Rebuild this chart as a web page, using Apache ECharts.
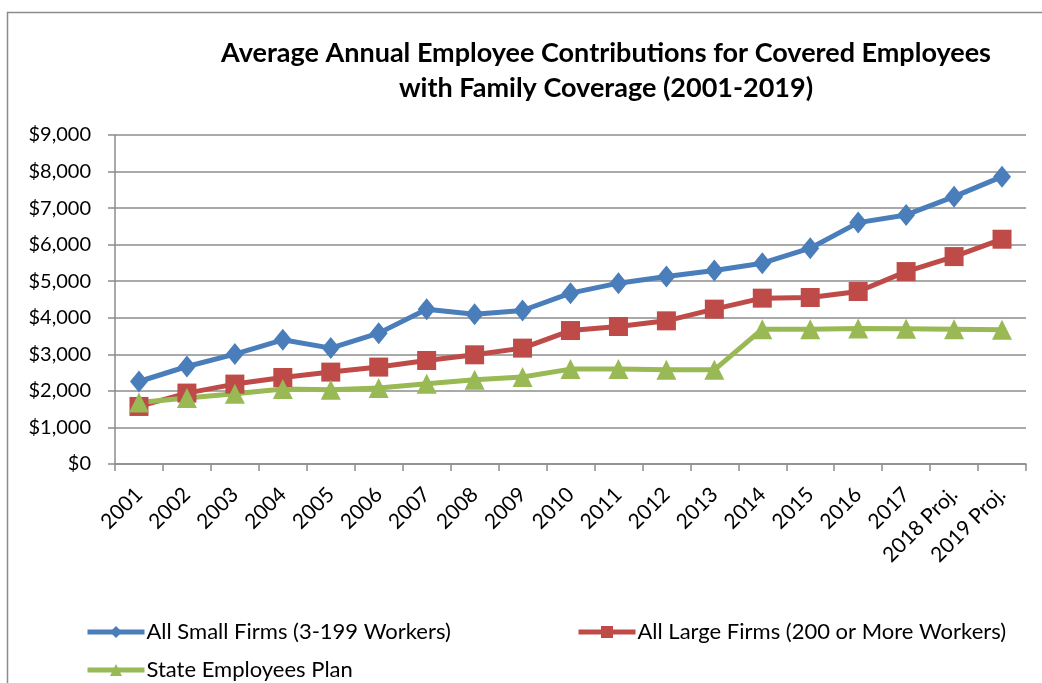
<!DOCTYPE html>
<html>
<head>
<meta charset="utf-8">
<script src="https://cdn.jsdelivr.net/npm/echarts@6/dist/echarts.min.js"></script>
<style>
  html, body { margin: 0; padding: 0; background: #ffffff; }
  #chart { width: 1042px; height: 683px; }
</style>
</head>
<body>
<div id="chart"></div>
<script>
// Categories along the x axis
const years = ['2001', '2002', '2003', '2004', '2005', '2006', '2007', '2008', '2009', '2010',
  '2011', '2012', '2013', '2014', '2015', '2016', '2017', '2018 Proj.', '2019 Proj.'];

// Average annual employee contribution, family coverage (USD)
const smallFirms = [2257, 2667, 3006, 3397, 3170, 3580, 4236, 4099, 4199, 4673,
  4947, 5127, 5292, 5493, 5903, 6603, 6813, 7314, 7861];
const largeFirms = [1574, 1940, 2186, 2367, 2514, 2651, 2832, 2987, 3170, 3651,
  3761, 3916, 4236, 4537, 4554, 4718, 5264, 5674, 6149];
const statePlan = [1684, 1803, 1921, 2049, 2031, 2077, 2195, 2304, 2378, 2596,
  2596, 2577, 2577, 3689, 3689, 3706, 3698, 3689, 3670];

const seriesNames = ['All Small Firms (3-199 Workers)', 'All Large Firms (200 or More Workers)', 'State Employees Plan'];

const FONT = 'Lato, "Open Sans", sans-serif';
const GRID_COLOR = '#8c8c8c';

const chart = echarts.init(document.getElementById('chart'), null, { renderer: 'canvas' });

function lineSeries(name, data, color, symbol, size) {
  return {
    name: name,
    type: 'line',
    data: data,
    symbol: symbol,
    symbolSize: size,
    showAllSymbol: true,
    lineStyle: { color: color, width: 5 },
    itemStyle: { color: color },
    emphasis: { disabled: true },
    z: 3
  };
}

function legendAt(name, left, top) {
  return {
    data: [name],
    left: left,
    top: top,
    itemWidth: 57,
    itemHeight: 15,
    itemGap: 0,
    lineStyle: { width: 5 },
    textStyle: { fontFamily: FONT, fontSize: 22, color: '#000000', padding: [0, 0, 0, -3] }
  };
}

chart.setOption({
  animation: false,
  backgroundColor: '#ffffff',
  title: {
    text: 'Average Annual Employee Contributions for Covered Employees\nwith Family Coverage (2001-2019)',
    left: 601,
    top: 31,
    textAlign: 'center',
    textStyle: {
      fontFamily: FONT,
      fontWeight: 'bold',
      fontSize: 27,
      lineHeight: 35,
      color: '#000000'
    }
  },
  graphic: [{
    type: 'rect',
    left: 5,
    top: 10,
    shape: { width: 1100, height: 720 },
    style: { fill: 'none', stroke: '#8c8c8c', lineWidth: 1.5 },
    silent: true
  }],
  legend: [
    legendAt(seriesNames[0], 80, 616),
    legendAt(seriesNames[1], 571, 616),
    legendAt(seriesNames[2], 80, 654)
  ],
  grid: { left: 115, right: 16, top: 135, bottom: 219, containLabel: false },
  xAxis: {
    type: 'category',
    data: years,
    boundaryGap: true,
    axisLine: { lineStyle: { color: GRID_COLOR, width: 1.5 } },
    axisTick: { show: true, length: 7, lineStyle: { color: GRID_COLOR, width: 1.5 } },
    axisLabel: {
      interval: 0,
      rotate: 45,
      margin: 27,
      fontFamily: FONT,
      fontSize: 21,
      color: '#000000'
    }
  },
  yAxis: {
    type: 'value',
    min: 0,
    max: 9000,
    interval: 1000,
    axisLine: { show: true, lineStyle: { color: GRID_COLOR, width: 1.5 } },
    axisTick: { show: true, length: 7, lineStyle: { color: GRID_COLOR, width: 1.5 } },
    splitLine: { lineStyle: { color: GRID_COLOR, width: 1.5 } },
    axisLabel: {
      margin: 24,
      fontFamily: FONT,
      fontSize: 20,
      color: '#000000',
      formatter: function (v) { return '$' + v.toLocaleString('en-US'); }
    }
  },
  series: [
    lineSeries(seriesNames[0], smallFirms, '#4a7ebb', 'diamond', [18, 22]),
    lineSeries(seriesNames[1], largeFirms, '#be4b48', 'rect', 19),
    lineSeries(seriesNames[2], statePlan, '#98b954', 'triangle', 20)
  ]
});
</script>
</body>
</html>
